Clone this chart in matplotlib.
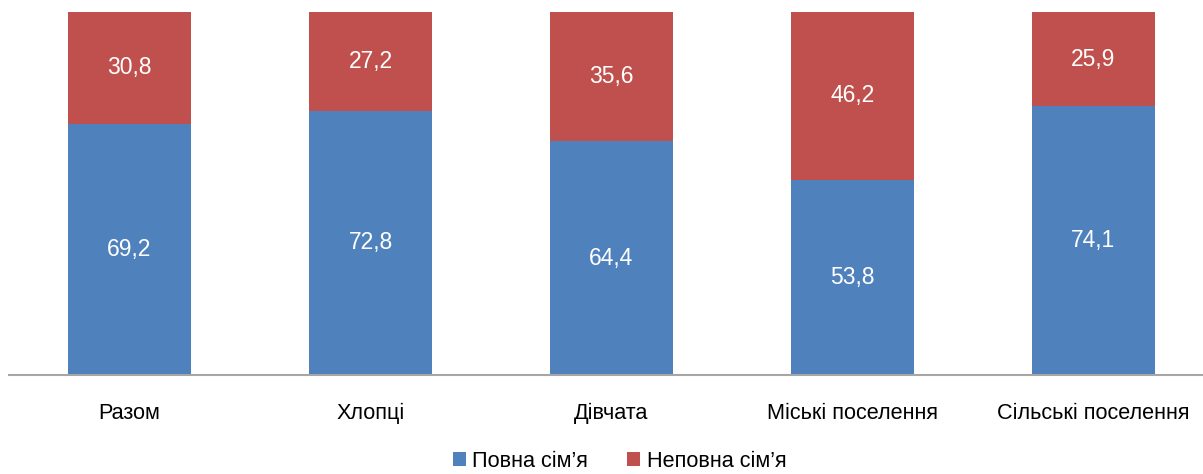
import numpy as np
import matplotlib.pyplot as plt

plt.rcParams['font.family'] = ['Liberation Sans', 'DejaVu Sans']

categories = ['Разом', 'Хлопці', 'Дівчата', 'Міські поселення', 'Сільські поселення']
full_family = [69.2, 72.8, 64.4, 53.8, 74.1]
single_parent = [30.8, 27.2, 35.6, 46.2, 25.9]
series_names = ['Повна сім’я', 'Неповна сім’я']

blue = '#4F81BD'
red = '#C0504D'

fig = plt.figure(figsize=(12.03, 4.74), dpi=100)
ax = fig.add_axes([9 / 1203, 99 / 474, 1194 / 1203, 363 / 474])

x = np.arange(len(categories))
w = 0.51
b1 = ax.bar(x, full_family, w, color=blue, label=series_names[0])
b2 = ax.bar(x, single_parent, w, bottom=full_family, color=red, label=series_names[1])

for bars, vals, base in ((b1, full_family, [0] * 5), (b2, single_parent, full_family)):
    for xi, v, b0 in zip(x, vals, base):
        ax.text(xi, b0 + v / 2, f'{v:.1f}'.replace('.', ','), ha='center', va='center',
                color='white', fontsize=16.5)

ax.set_xlim(-0.5, -0.5 + 1194 / 241)
ax.set_ylim(0, 100)
ax.set_yticks([])
ax.set_xticks(x)
ax.set_xticklabels(categories, fontsize=15.6)
ax.tick_params(axis='x', length=0, pad=20)
for s in ['top', 'right', 'left']:
    ax.spines[s].set_visible(False)
ax.spines['bottom'].set_color('#A6A6A6')
ax.spines['bottom'].set_linewidth(1.5)

fig.legend(loc='lower center', bbox_to_anchor=(0.515, -0.036), ncol=2, frameon=False,
           fontsize=15.6, handlelength=0.6, handleheight=0.6, handletextpad=0.3,
           columnspacing=1.8)

fig.savefig('out.png', dpi=100)
